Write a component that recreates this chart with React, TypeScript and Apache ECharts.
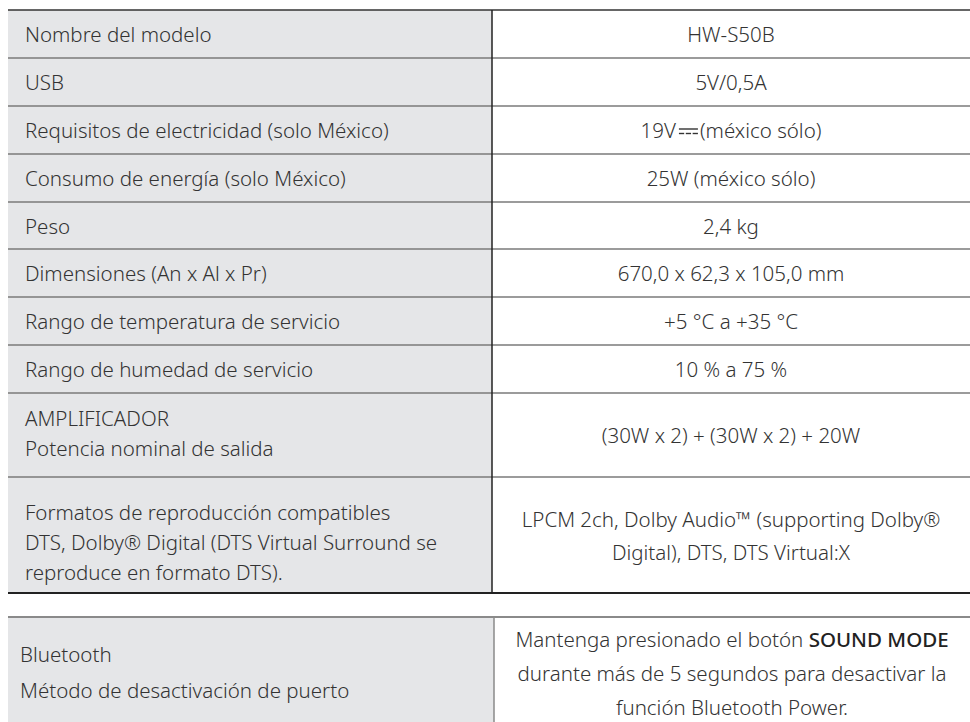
import React, { useEffect, useRef } from "react";
import * as echarts from "echarts";

const W = 970;
const H = 722;

// ---- data ----
const specLabels: string[][] = [
  ["Nombre del modelo"],
  ["USB"],
  ["Requisitos de electricidad (solo México)"],
  ["Consumo de energía (solo México)"],
  ["Peso"],
  ["Dimensiones (An x Al x Pr)"],
  ["Rango de temperatura de servicio"],
  ["Rango de humedad de servicio"],
  ["AMPLIFICADOR", "Potencia nominal de salida"],
  ["Formatos de reproducción compatibles", "DTS, Dolby® Digital (DTS Virtual Surround se", "reproduce en formato DTS)."],
];
const specValues: string[][] = [
  ["HW-S50B"],
  ["5V/0,5A"],
  ["19V|DC|(méxico sólo)"],
  ["25W (méxico sólo)"],
  ["2,4 kg"],
  ["670,0 x 62,3 x 105,0 mm"],
  ["+5 °C a +35 °C"],
  ["10 % a 75 %"],
  ["(30W x 2) + (30W x 2) + 20W"],
  ["LPCM 2ch, Dolby Audio™ (supporting Dolby®", "Digital), DTS, DTS Virtual:X"],
];
const btLabels: string[] = ["Bluetooth", "Método de desactivación de puerto"];
const btValues: string[] = [
  "Mantenga presionado el botón {b|SOUND MODE}",
  "durante más de 5 segundos para desactivar la",
  "función Bluetooth Power.",
];

// ---- layout ----
const FONT = "'Noto Sans', sans-serif";
const FS = 20.5;
const FW = 300;
const TXT = "#333333";
const FILL = "#e5e6e8";
const rowLines = [10, 58, 106, 154, 202, 249, 297, 345, 393, 477, 593];
const leftX = 8;
const divX = 492;
const rightX = W;
const labelX = 25;
const t2Top = 617;
const div2X = 494;
const leftMid = [34, 82, 130, 178, 225.5, 273, 321, 369, 433, 542];
const rightMid = [34, 82, 130, 178, 225.5, 273, 321, 369, 435, 535];
const leftLH = 30;
const rightLH = 33;

function measure(text: string, font: string) {
  const c = document.createElement("canvas").getContext("2d")!;
  c.font = font;
  return c.measureText(text).width;
}

export default function App() {
  const ref = useRef<HTMLDivElement>(null);
  useEffect(() => {
    if (!ref.current) return;
    const chart = echarts.init(ref.current, undefined, { renderer: "svg" });
    const els: any[] = [];
    const midR = (divX + rightX) / 2;

    els.push({ type: "rect", shape: { x: leftX, y: rowLines[0], width: divX - leftX, height: rowLines[rowLines.length - 1] - rowLines[0] }, style: { fill: FILL } });
    els.push({ type: "rect", shape: { x: leftX, y: t2Top, width: div2X - leftX, height: H - t2Top + 20 }, style: { fill: FILL } });

    const txt = (x: number, y: number, s: string, align: string, extra: any = {}) =>
      els.push({
        type: "text",
        x,
        y,
        style: { text: s, fill: TXT, fontFamily: FONT, fontSize: FS, fontWeight: FW, textAlign: align, textVerticalAlign: "middle", ...extra },
      });

    specLabels.forEach((lines, i) => {
      const mid = leftMid[i];
      lines.forEach((s, k) => txt(labelX, mid + (k - (lines.length - 1) / 2) * leftLH, s, "left"));
      const vals = specValues[i];
      const vmid = rightMid[i];
      vals.forEach((s, k) => {
        const y = vmid + (k - (vals.length - 1) / 2) * rightLH;
        if (s.includes("|DC|")) {
          const [a, b] = s.split("|DC|");
          const f = `${FW} ${FS}px 'Noto Sans'`;
          const wa = measure(a, f);
          const wb = measure(b, f);
          const gap = 24;
          const total = wa + gap + wb;
          const x0 = midR - total / 2;
          txt(x0, y, a, "left");
          txt(x0 + wa + gap, y, b, "left");
          const sx = x0 + wa + 3;
          const ex = sx + gap - 5;
          els.push({ type: "line", shape: { x1: sx, y1: y - 1, x2: ex, y2: y - 1 }, style: { stroke: TXT, lineWidth: 1.4 } });
          const segW = (ex - sx - 2 * 1.6) / 3;
          for (let d = 0; d < 3; d++) {
            const s1 = sx + d * (segW + 1.6);
            els.push({ type: "line", shape: { x1: s1, y1: y + 3.5, x2: s1 + segW, y2: y + 3.5 }, style: { stroke: TXT, lineWidth: 1.4 } });
          }
        } else {
          txt(midR, y, s, "center");
        }
      });
    });

    rowLines.forEach((y, i) => {
      const isTop = i === 0;
      const isBot = i === rowLines.length - 1;
      els.push({
        type: "line",
        shape: { x1: leftX, y1: y, x2: rightX, y2: y },
        style: { stroke: isTop ? "#333333" : isBot ? "#222222" : "#7a7a7a", lineWidth: isBot ? 2 : 1.5 },
      });
    });
    els.push({ type: "line", shape: { x1: divX, y1: rowLines[0], x2: divX, y2: rowLines[rowLines.length - 1] }, style: { stroke: "#222222", lineWidth: 1.5 } });

    els.push({ type: "line", shape: { x1: leftX, y1: t2Top, x2: rightX, y2: t2Top }, style: { stroke: "#8a8a8a", lineWidth: 2 } });
    els.push({ type: "line", shape: { x1: div2X, y1: t2Top, x2: div2X, y2: H + 10 }, style: { stroke: "#8a8a8a", lineWidth: 1.5 } });
    btLabels.forEach((s, k) => txt(20, 672 + (k - 0.5) * 36, s, "left"));
    const mid2 = (div2X + rightX) / 2;
    btValues.forEach((s, k) =>
      els.push({
        type: "text",
        x: mid2,
        y: 673 + (k - 1) * 34,
        style: {
          text: s,
          fill: TXT,
          fontFamily: FONT,
          fontSize: FS,
          fontWeight: FW,
          textAlign: "center",
          textVerticalAlign: "middle",
          rich: { b: { fontFamily: FONT, fontSize: FS, fontWeight: 500, fill: "#222222" } },
        },
      })
    );

    chart.setOption({ animation: false, graphic: { elements: els } });
    return () => chart.dispose();
  }, []);
  return <div ref={ref} style={{ position: "fixed", left: 0, top: 0, width: W, height: H, background: "#ffffff" }} />;
}
